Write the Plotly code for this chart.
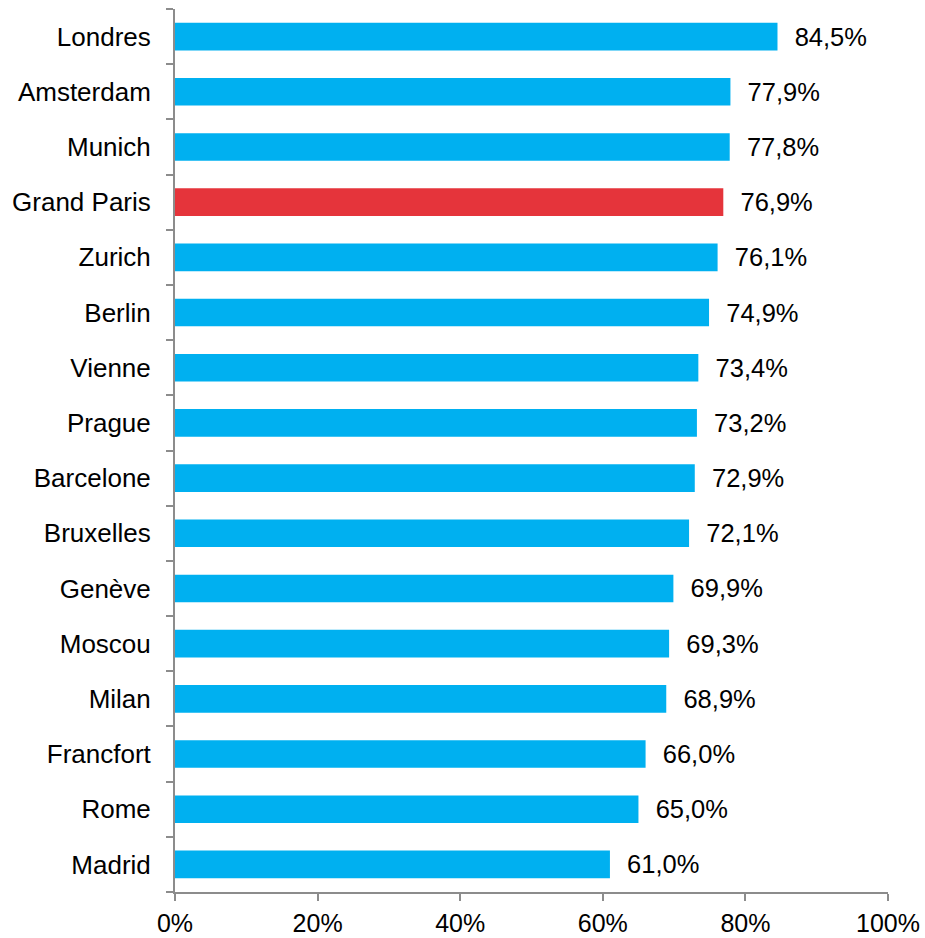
import plotly.graph_objects as go

cities = ["Londres", "Amsterdam", "Munich", "Grand Paris", "Zurich", "Berlin", "Vienne",
          "Prague", "Barcelone", "Bruxelles", "Genève", "Moscou", "Milan", "Francfort",
          "Rome", "Madrid"]
values = [84.5, 77.9, 77.8, 76.9, 76.1, 74.9, 73.4, 73.2, 72.9, 72.1, 69.9, 69.3,
          68.9, 66.0, 65.0, 61.0]
highlight = "Grand Paris"
tick_vals = [0, 20, 40, 60, 80, 100]
tick_text = ["0%", "20%", "40%", "60%", "80%", "100%"]

BLUE = "#00B0F0"
RED = "#E5343B"
FONT = "Liberation Sans, Arial, sans-serif"
FS = 25
colors = [RED if c == highlight else BLUE for c in cities]
labels = [("  " + f"{v:.1f}%".replace(".", ",")) for v in values]

fig = go.Figure(go.Bar(
    x=values, y=cities, orientation="h",
    marker=dict(color=colors, line=dict(width=0)),
    text=labels, textposition="outside", cliponaxis=False,
    textfont=dict(size=25.5, color="#000000", family=FONT),
))

axis_color = "#8C8C8C"
fig.update_layout(
    width=925, height=938,
    margin=dict(l=175, r=37, t=9, b=46, autoexpand=False),
    paper_bgcolor="white", plot_bgcolor="white",
    bargap=0.5, showlegend=False,
    font=dict(family=FONT, size=FS, color="#000000"),
    xaxis=dict(range=[0, 100], tickvals=tick_vals, ticktext=tick_text,
               showgrid=False, zeroline=False, showline=True, linecolor=axis_color,
               linewidth=2, ticks="outside", ticklen=7, tickwidth=2, tickcolor=axis_color,
               tickfont=dict(size=FS), ticklabelstandoff=1, automargin=False),
    yaxis=dict(categoryorder="array", categoryarray=cities[::-1], autorange=True,
               showgrid=False, zeroline=False, showline=True, linecolor=axis_color,
               linewidth=2, ticks="outside", ticklen=7, tickwidth=2, tickcolor=axis_color,
               tickson="boundaries", tickfont=dict(size=26), ticklabelstandoff=17,
               automargin=False),
    uniformtext=dict(minsize=25.5, mode="show"),
)

fig.write_html(
    "out.html",
    config={"displayModeBar": False},
    post_script="document.body.style.margin='0';document.body.style.overflow='hidden';",
)
